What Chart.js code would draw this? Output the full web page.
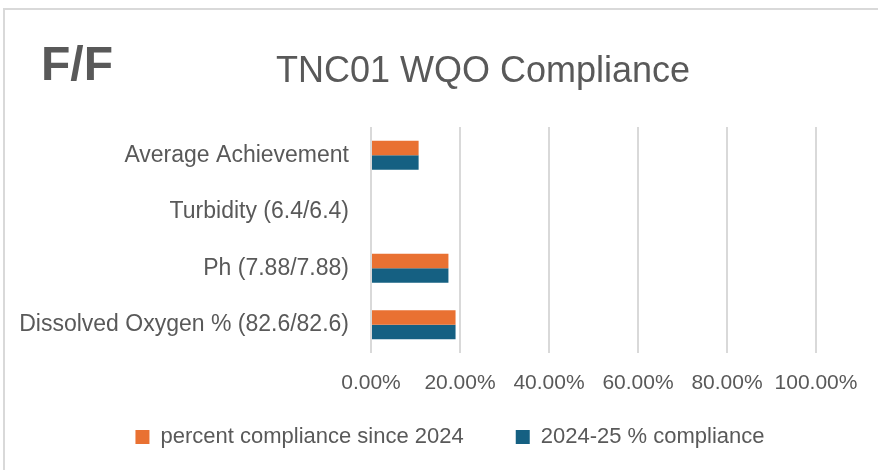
<!DOCTYPE html>
<html>
<head>
<meta charset="utf-8">
<script src="https://cdn.jsdelivr.net/npm/chart.js@4.4.0/dist/chart.umd.min.js"></script>
<style>
  html, body { margin: 0; padding: 0; background: #ffffff; overflow: hidden; }
  #wrap { position: relative; width: 878px; height: 470px; }
  #frame { position: absolute; left: 3px; top: 8px; width: 900px; height: 500px; border: 2px solid #d9d9d9; box-sizing: border-box; }
  canvas { position: absolute; left: 0; top: 0; }
</style>
</head>
<body>
<div id="wrap">
  <div id="frame"></div>
  <canvas id="myChart" width="878" height="470"></canvas>
</div>
<script>
// Datos del gráfico
const categories = ["Average Achievement", "Turbidity (6.4/6.4)", "Ph (7.88/7.88)", "Dissolved Oxygen % (82.6/82.6)"];
const sinceCompliance = [10.7, 0, 17.4, 19.0];
const yearCompliance = [10.7, 0, 17.4, 19.0];
const seriesNames = ["percent compliance since 2024", "2024-25 % compliance"];
const xTicks = [0, 20, 40, 60, 80, 100];

const gris = "#595959";
const fuente = "'Liberation Sans', Arial, sans-serif";

// Texto del encabezado (F/F y título)
const encabezado = {
    id: "encabezado",
    afterLayout(chart) {
        // mover la leyenda a su sitio (centrada como en Excel)
        const lg = chart.legend;
        lg.top -= 41;
        lg.height += 41;
        lg.left += 9;
        lg.right += 9;
    },
    afterDraw(chart) {
        const ctx = chart.ctx;
        ctx.save();
        ctx.fillStyle = gris;
        ctx.textBaseline = "alphabetic";
        ctx.textAlign = "left";
        ctx.font = "bold 48px " + fuente;
        ctx.fillText("F/F", 41, 80);
        ctx.textAlign = "center";
        ctx.font = "36px " + fuente;
        ctx.fillText("TNC01 WQO Compliance", 483, 82);
        ctx.restore();
    }
};

const ctx = document.getElementById("myChart");
new Chart(ctx.getContext("2d"), {
    type: "bar",
    data: {
        labels: categories,
        datasets: [{
            label: seriesNames[0],
            data: sinceCompliance,
            backgroundColor: "#e97132",
            borderWidth: 0,
            categoryPercentage: 0.51,
            barPercentage: 1.0
        }, {
            label: seriesNames[1],
            data: yearCompliance,
            backgroundColor: "#156082",
            borderWidth: 0,
            categoryPercentage: 0.51,
            barPercentage: 1.0
        }]
    },
    options: {
        indexAxis: "y",
        responsive: false,
        animation: false,
        layout: {
            padding: { top: 127, right: 0, bottom: 0, left: 4 }
        },
        scales: {
            x: {
                min: 0,
                max: 100,
                afterBuildTicks: (scale) => {
                    scale.ticks = xTicks.map(v => ({ value: v }));
                },
                afterFit: (scale) => {
                    scale.height = 62;
                    scale.paddingRight = 62;
                },
                grid: { color: "#d9d9d9", lineWidth: 2, drawTicks: false },
                border: { display: false },
                ticks: {
                    color: gris,
                    padding: 18,
                    font: { family: fuente, size: 21 },
                    callback: (v) => v.toFixed(2) + "%"
                }
            },
            y: {
                afterFit: (scale) => { scale.width = 367; },
                grid: { display: false, drawTicks: false },
                border: { display: false },
                ticks: {
                    color: gris,
                    padding: 22,
                    font: { family: fuente, size: 23 }
                }
            }
        },
        plugins: {
            legend: {
                display: true,
                position: "bottom",
                maxHeight: 55,
                labels: {
                    color: gris,
                    font: { family: fuente, size: 22 },
                    boxWidth: 14,
                    boxHeight: 14,
                    padding: 52
                }
            },
            title: { display: false },
            tooltip: { enabled: false }
        }
    },
    plugins: [encabezado]
});
</script>
</body>
</html>
